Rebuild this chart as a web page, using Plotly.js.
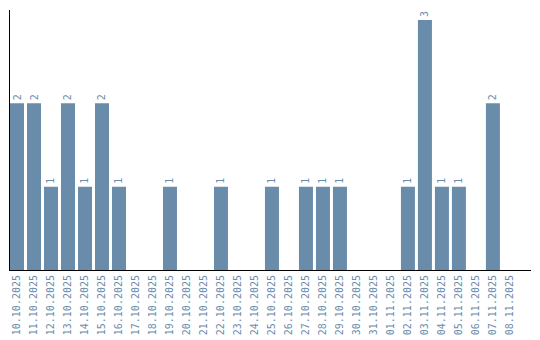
<!DOCTYPE html>
<html>
<head>
<meta charset="utf-8">
<script src="https://cdn.plot.ly/plotly-3.0.1.min.js"></script>
<style>html,body{margin:0;padding:0;background:#fff;}#chart{width:540px;height:340px;}</style>
</head>
<body>
<div id="chart"></div>
<script>
const dates = ["10.10.2025","11.10.2025","12.10.2025","13.10.2025","14.10.2025","15.10.2025","16.10.2025","17.10.2025","18.10.2025","19.10.2025","20.10.2025","21.10.2025","22.10.2025","23.10.2025","24.10.2025","25.10.2025","26.10.2025","27.10.2025","28.10.2025","29.10.2025","30.10.2025","31.10.2025","01.11.2025","02.11.2025","03.11.2025","04.11.2025","05.11.2025","06.11.2025","07.11.2025","08.11.2025"];
const counts = [2,2,1,2,1,2,1,0,0,1,0,0,1,0,0,1,0,1,1,1,0,0,0,1,3,1,1,0,2,0];
const labels = counts.map(v => v > 0 ? String(v) : "");

const color = "#6a8cab";
Plotly.newPlot("chart", [{
  type: "bar",
  x: dates,
  y: counts,
  text: labels,
  textposition: "outside",
  textangle: -90,
  cliponaxis: false,
  textfont: {family: "DejaVu Sans Mono", size: 10, color: color},
  marker: {color: color},
  hoverinfo: "none"
}], {
  width: 540, height: 340,
  margin: {l: 10, r: 9, t: 10, b: 70},
  paper_bgcolor: "#fff", plot_bgcolor: "#fff",
  bargap: 0.176,
  showlegend: false,
  xaxis: {
    type: "category",
    range: [-0.412, 30.24],
    showline: true, linecolor: "#000", linewidth: 1,
    showgrid: false, zeroline: false,
    ticks: "", tickangle: -90,
    tickfont: {family: "DejaVu Sans Mono", size: 10, color: color}
  },
  yaxis: {
    range: [0, 3.12],
    showline: true, linecolor: "#000", linewidth: 1,
    showgrid: false, zeroline: false,
    showticklabels: false, ticks: ""
  }
}, {staticPlot: true});
</script>
</body>
</html>
